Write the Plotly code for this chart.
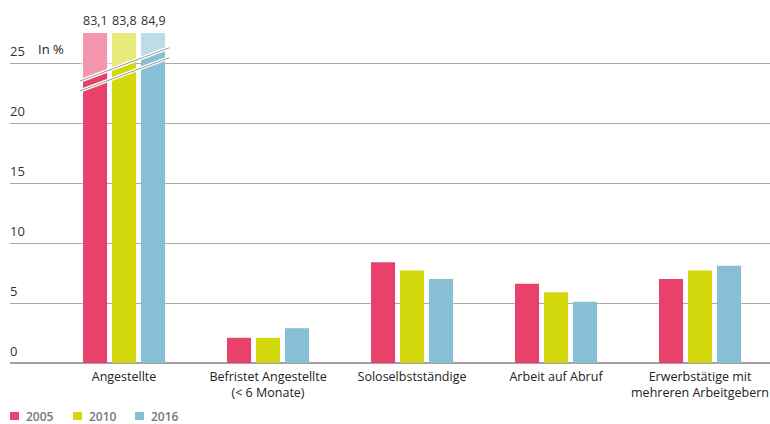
import plotly.graph_objects as go

# Kategorien und Anteile (in %)
categories = [
    "Angestellte",
    "Befristet Angestellte<br>(< 6 Monate)",
    "Soloselbstständige",
    "Arbeit auf Abruf",
    "Erwerbstätige mit<br>mehreren Arbeitgebern",
]
years = ["2005", "2010", "2016"]
values_2005 = [83.1, 2.1, 8.4, 6.6, 7.0]
values_2010 = [83.8, 2.1, 7.7, 5.9, 7.7]
values_2016 = [84.9, 2.9, 7.0, 5.1, 8.1]
series = [values_2005, values_2010, values_2016]
colors = ["#e8426b", "#d3d80c", "#88bfd4"]

Y_TOP = 27.5          # sichtbares Maximum der (unterbrochenen) Achse
BARGAP = 0.396
slot = (1 - BARGAP) / 3

W, H = 770, 424
M_L, M_R, M_T, M_B = 10, 0, 33, 61
plot_w = W - M_L - M_R
plot_h = H - M_T - M_B


def px_x(px):
    """Pixel-x -> Paper-Koordinate."""
    return (px - M_L) / plot_w


def px_y(py):
    """Pixel-y -> Paper-Koordinate."""
    return (H - M_B - py) / plot_h


x_pos = list(range(len(categories)))

fig = go.Figure()
for name, vals, col in zip(years, series, colors):
    fig.add_trace(go.Bar(
        x=x_pos, y=vals, name=name,
        marker=dict(color=col, line=dict(width=0)),
        hoverinfo="x+y", showlegend=False,
    ))

# Aufgehellter Bereich oberhalb des Achsenbruchs
bx0, by0 = -0.3056, 23.5
bx1, by1 = 0.3146, 26.27
dy = 0.83
fig.add_shape(
    type="path",
    path=f"M {bx0},{by0} L {bx1},{by1} L {bx1},{Y_TOP} L {bx0},{Y_TOP} Z",
    xref="x", yref="y", fillcolor="rgba(255,255,255,0.45)",
    line=dict(width=0), layer="above",
)
# Bruchlinien
for off in (0, -dy):
    fig.add_shape(type="line", x0=bx0, y0=by0 + off, x1=bx1, y1=by1 + off,
                  xref="x", yref="y", line=dict(color="white", width=3.5),
                  layer="above")
    fig.add_shape(type="line", x0=bx0, y0=by0 + off, x1=bx1, y1=by1 + off,
                  xref="x", yref="y", line=dict(color="#9a9a9a", width=1),
                  layer="above")

# Werte der unterbrochenen Balken
for i, vals in enumerate(series):
    fig.add_annotation(
        x=0 + (i - 1) * slot, y=Y_TOP, xref="x", yref="y",
        text=f"{vals[0]:.1f}".replace(".", ","), showarrow=False,
        yanchor="bottom", yshift=2,
        font=dict(size=12.5, color="#333333"),
    )

fig.add_annotation(
    x=0, y=25, xref="paper", yref="y", xshift=26,
    text="In %", showarrow=False, xanchor="left", yanchor="bottom", yshift=3,
    font=dict(size=13, color="#222222"),
)

# Legende unten links
legend_sq_x = [10, 73, 135]
legend_cy = 416
for name, col, sx in zip(years, colors, legend_sq_x):
    fig.add_shape(
        type="rect", xref="paper", yref="paper",
        x0=px_x(sx), x1=px_x(sx + 9),
        y0=px_y(legend_cy + 4), y1=px_y(legend_cy - 4),
        fillcolor=col, line=dict(width=0),
    )
    fig.add_annotation(
        x=px_x(sx + 14), y=px_y(legend_cy), xref="paper", yref="paper",
        text=name, showarrow=False, xanchor="left", yanchor="middle",
        font=dict(size=12, color="#777777", weight=600),
    )

fig.update_layout(
    width=W, height=H,
    margin=dict(l=M_L, r=M_R, t=M_T, b=M_B),
    paper_bgcolor="white", plot_bgcolor="white",
    barmode="group", bargap=BARGAP, bargroupgap=0.17,
    font=dict(family="Open Sans", size=13, color="#222222"),
    showlegend=False,
    xaxis=dict(
        range=[-0.792, 4.486], tickvals=x_pos, ticktext=categories,
        showgrid=False, zeroline=False, showline=False, ticks="",
        automargin=False, ticklabeloverflow="allow", ticklabelstandoff=4,
        tickfont=dict(size=12.5, color="#222222"),
    ),
    yaxis=dict(
        range=[0, Y_TOP], tickvals=[0, 5, 10, 15, 20, 25],
        ticktext=["0", "5", "10", "15", "20", "25"],
        showgrid=True, gridcolor="#a8a8a8", gridwidth=1,
        zeroline=True, zerolinecolor="#a0a0a0", zerolinewidth=1.5,
        ticklabelposition="inside top", ticks="", automargin=False,
        ticklabelstandoff=-3, ticklabelshift=-2, ticklabeloverflow="allow",
        tickfont=dict(size=13, color="#333333"),
    ),
)

fig.write_html("out.html")
